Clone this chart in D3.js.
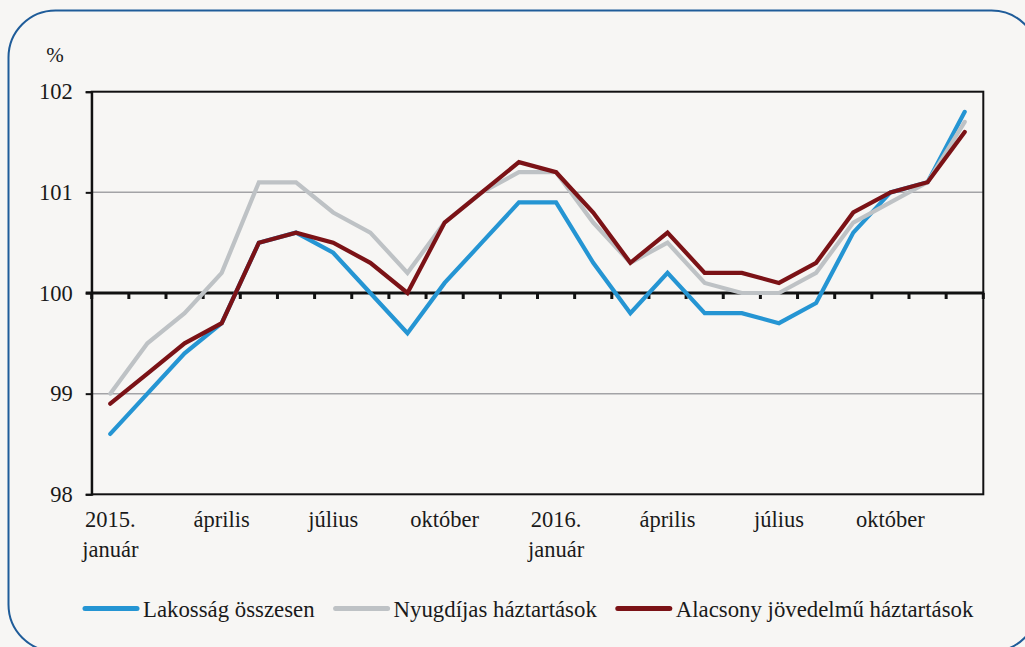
<!DOCTYPE html>
<html>
<head>
<meta charset="utf-8">
<script src="https://cdn.jsdelivr.net/npm/d3@7"></script>
<style>
  body { margin: 0; background: #f7f6f4; }
  svg { display: block; }
  text { font-family: "Liberation Serif", "DejaVu Serif", serif; fill: #1a1a1a; }
</style>
</head>
<body>
<script>
// months, jan 2015 .. dec 2016
var months = ["2015-01","2015-02","2015-03","2015-04","2015-05","2015-06","2015-07","2015-08","2015-09","2015-10","2015-11","2015-12",
              "2016-01","2016-02","2016-03","2016-04","2016-05","2016-06","2016-07","2016-08","2016-09","2016-10","2016-11","2016-12"];

var lakossag = [98.6, 99.0, 99.4, 99.7, 100.5, 100.6, 100.4, 100.0, 99.6, 100.1, 100.5, 100.9,
                100.9, 100.3, 99.8, 100.2, 99.8, 99.8, 99.7, 99.9, 100.6, 101.0, 101.1, 101.8];
var nyugdijas = [99.0, 99.5, 99.8, 100.2, 101.1, 101.1, 100.8, 100.6, 100.2, 100.7, 101.0, 101.2,
                 101.2, 100.7, 100.3, 100.5, 100.1, 100.0, 100.0, 100.2, 100.7, 100.9, 101.1, 101.7];
var alacsony = [98.9, 99.2, 99.5, 99.7, 100.5, 100.6, 100.5, 100.3, 100.0, 100.7, 101.0, 101.3,
                101.2, 100.8, 100.3, 100.6, 100.2, 100.2, 100.1, 100.3, 100.8, 101.0, 101.1, 101.6];

var seriesNames = ["Lakosság összesen", "Nyugdíjas háztartások", "Alacsony jövedelmű háztartások"];
var seriesColors = ["#2595d3", "#bec2c5", "#7b1216"];

var labelMonths = ["2015-01","2015-04","2015-07","2015-10","2016-01","2016-04","2016-07","2016-10"];
var labelTexts = [["2015.","január"],["április"],["július"],["október"],["2016.","január"],["április"],["július"],["október"]];

var yTicks = [98, 99, 100, 101, 102];

var svgWidth = 1025;
var svgHeight = 647;

var svg = d3.select("body")
    .append("svg")
    .attr("width", svgWidth)
    .attr("height", svgHeight);

// rounded frame
svg.append("rect")
    .attr("x", 8.5).attr("y", 10.5)
    .attr("width", 1030).attr("height", 641)
    .attr("rx", 47).attr("ry", 47)
    .attr("fill", "#f7f6f4")
    .attr("stroke", "#1f5c99")
    .attr("stroke-width", 2);

var plotLeft = 91.7, plotRight = 983.3, plotTop = 91.7, plotBottom = 494.3;

var x = d3.scaleBand().domain(months).range([plotLeft, plotRight]).padding(0);
var y = d3.scaleLinear().domain([98, 102]).range([plotBottom, plotTop]);
var cx = function (m) { return x(m) + x.bandwidth() / 2; };

// gridlines
svg.append("g")
    .selectAll("line")
    .data([99, 101])
    .enter()
    .append("line")
    .attr("x1", plotLeft).attr("x2", plotRight)
    .attr("y1", d => y(d)).attr("y2", d => y(d))
    .attr("stroke", "#a3a3a6")
    .attr("stroke-width", 1.5);

// plot frame
svg.append("rect")
    .attr("x", plotLeft).attr("y", plotTop)
    .attr("width", plotRight - plotLeft).attr("height", plotBottom - plotTop)
    .attr("fill", "none")
    .attr("stroke", "#111")
    .attr("stroke-width", 2);

// left axis
var leftAxis = d3.axisLeft(y).tickValues(yTicks).tickSize(6).tickPadding(13).tickFormat(d3.format("d"));
var yAxis = svg.append("g")
    .attr("transform", `translate(${plotLeft}, 0)`)
    .call(leftAxis);
yAxis.select(".domain").attr("stroke", "#111").attr("stroke-width", 2);
yAxis.selectAll(".tick line").attr("stroke", "#111").attr("stroke-width", 2);
yAxis.selectAll(".tick text")
    .style("font-family", "Liberation Serif")
    .style("font-size", "22.5px")
    .attr("fill", "#1a1a1a");

svg.append("text")
    .attr("x", 55).attr("y", 62)
    .attr("text-anchor", "middle")
    .style("font-size", "21px")
    .text("%");

// x axis across 100 with ticks at band edges
var edges = months.map(m => x(m)).concat([plotRight]);
svg.append("g")
    .selectAll("line")
    .data(edges)
    .enter()
    .append("line")
    .attr("x1", d => d).attr("x2", d => d)
    .attr("y1", y(100)).attr("y2", y(100) + 6)
    .attr("stroke", "#111")
    .attr("stroke-width", 3);

svg.append("line")
    .attr("x1", plotLeft - 6).attr("x2", plotRight + 1)
    .attr("y1", y(100)).attr("y2", y(100))
    .attr("stroke", "#111")
    .attr("stroke-width", 3);

// x labels
var xl = svg.append("g")
    .selectAll("text")
    .data(labelMonths)
    .enter()
    .append("text")
    .attr("text-anchor", "middle")
    .style("font-size", "22.5px");
xl.selectAll("tspan")
    .data((d, i) => labelTexts[i].map(t => ({ m: d, t: t })))
    .enter()
    .append("tspan")
    .attr("x", d => cx(d.m))
    .attr("y", (d, j) => 527 + j * 30)
    .text(d => d.t);

// lines
var allSeries = [lakossag, nyugdijas, alacsony];
var line = d3.line()
    .x((d, i) => cx(months[i]))
    .y(d => y(d));

svg.append("g")
    .selectAll("path")
    .data(allSeries)
    .enter()
    .append("path")
    .attr("d", d => line(d))
    .attr("fill", "none")
    .attr("stroke", (d, i) => seriesColors[i])
    .attr("stroke-width", 4.2)
    .attr("stroke-linejoin", "miter")
    .attr("stroke-linecap", "round");

// legend
var lx = 85;
var ly = 608.5;
var legend = svg.append("g");
seriesNames.forEach(function (name, i) {
    legend.append("line")
        .attr("x1", lx).attr("x2", lx + 52)
        .attr("y1", ly).attr("y2", ly)
        .attr("stroke", seriesColors[i])
        .attr("stroke-width", 5)
        .attr("stroke-linecap", "round");
    var t = legend.append("text")
        .attr("x", lx + 58)
        .attr("y", ly + 8)
        .style("font-size", "22.8px")
        .text(name);
    lx = lx + 58 + t.node().getComputedTextLength() + 21;
});
</script>
</body>
</html>
